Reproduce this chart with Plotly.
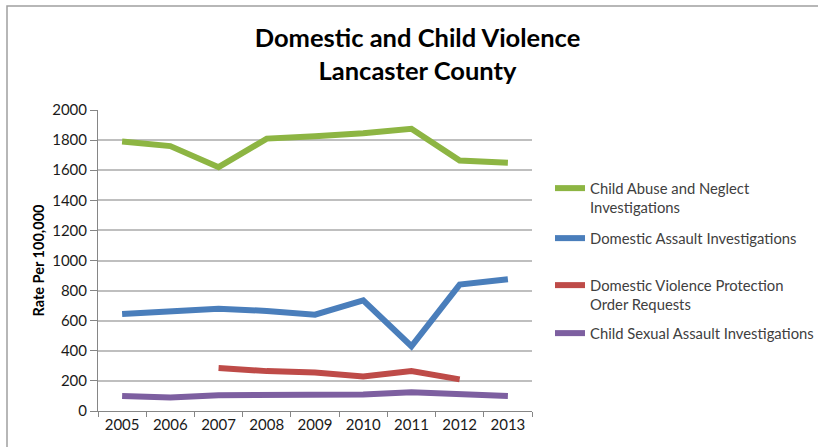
import plotly.graph_objects as go

years = ["2005", "2006", "2007", "2008", "2009", "2010", "2011", "2012", "2013"]
child_abuse = [1790, 1760, 1620, 1810, 1825, 1845, 1875, 1665, 1650]
domestic_assault = [645, 660, 680, 665, 640, 735, 430, 840, 875]
protection_orders = [None, None, 285, 265, 255, 230, 265, 210, None]
child_sexual = [100, 90, 105, 105, 100, 110, 125, 110, 100]

names = [
    "Child Abuse and Neglect<br>Investigations",
    "Domestic Assault Investigations",
    "Domestic Violence Protection<br>Order Requests",
    "Child Sexual Assault Investigations",
]
colors = ["#8DB543", "#4A7EBB", "#BE4B48", "#7D5FA0"]
series = [child_abuse, domestic_assault, protection_orders, child_sexual]
legend_ids = ["legend", "legend2", "legend3", "legend4"]
legend_top = [172, 222, 269, 317]  # pixel y of top of each legend box

FONT = "Lato"
fig = go.Figure()
for name, vals, col, lid in zip(names, series, colors, legend_ids):
    fig.add_trace(go.Scatter(
        x=years, y=vals, name=name, mode="lines",
        line=dict(color=col, width=6),
        legend=lid,
    ))

W, H = 818, 447
L, R, T, B = 98, 286, 110, 36
pw, ph = W - L - R, H - T - B

layout_legends = {}
for lid, py in zip(legend_ids, legend_top):
    layout_legends[lid] = dict(
        xref="container", yref="container",
        x=550 / W, y=1 - py / H, xanchor="left", yanchor="top",
        bgcolor="rgba(0,0,0,0)", borderwidth=0,
        font=dict(family=FONT, size=14.8, color="#404040"),
        valign="top", itemwidth=30, tracegroupgap=0,
    )

fig.update_layout(
    width=W, height=H,
    paper_bgcolor="white", plot_bgcolor="white",
    margin=dict(l=L, r=R, t=T, b=B),
    title=dict(
        text="<b>Domestic and Child Violence<br>Lancaster County</b>",
        x=417.5 / W, xanchor="center", xref="container",
        y=1 - 47 / H, yanchor="top", yref="container",
        font=dict(family=FONT, size=25.5, color="black"),
    ),
    showlegend=True,
    xaxis=dict(
        type="category", range=[-0.5, 8.5],
        showgrid=False, showline=True, linecolor="#868686", linewidth=1,
        ticks="outside", tickson="boundaries", ticklen=5, tickcolor="#868686",
        tickfont=dict(family=FONT, size=15, color="#1a1a1a"),
        zeroline=False,
    ),
    yaxis=dict(
        range=[0, 2000], dtick=200, tick0=0,
        showgrid=True, gridcolor="#BFBFBF", gridwidth=1.5,
        showline=True, linecolor="#868686", linewidth=1,
        ticks="outside", ticklen=7, tickcolor="#868686",
        tickfont=dict(family=FONT, size=15, color="#1a1a1a"),
        zeroline=False,
        title=dict(text="<b>Rate Per 100,000</b>", standoff=4,
                   font=dict(family=FONT, size=14.5, color="black")),
    ),
    **layout_legends,
)

# outer frame of the chart area
fig.add_shape(
    type="rect", xref="paper", yref="paper",
    x0=(7 - L) / pw, x1=(W + 10 - L) / pw,
    y0=(H - B - (H + 10)) / ph, y1=(H - B - 6) / ph,
    line=dict(color="#A0A0A0", width=1.5), fillcolor="rgba(0,0,0,0)",
    layer="below",
)

fig.write_html("out.html", config={"displayModeBar": False},
               post_script="document.body.style.margin='0';")
